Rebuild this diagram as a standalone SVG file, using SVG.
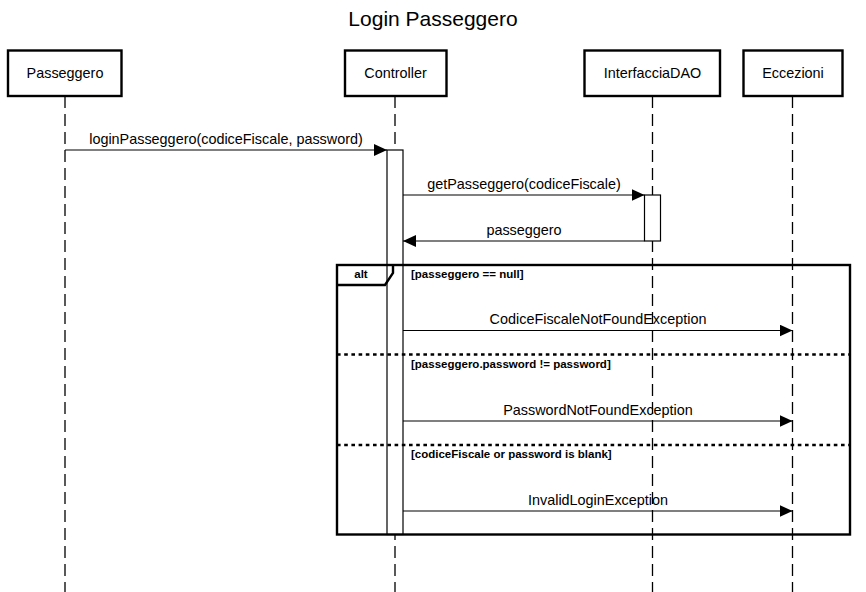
<svg xmlns="http://www.w3.org/2000/svg" width="866" height="592" viewBox="0 0 866 592">
<defs>
<style>
.t{font-family:"Liberation Sans",Arial,sans-serif;fill:#000}
.lbl{font-size:14.4px;text-anchor:middle}
.ttl{font-size:21px;text-anchor:middle}
.grd{font-size:11.5px;font-weight:bold}
.box{fill:#fff;stroke:#000;stroke-width:2.4}
.life{stroke:#000;stroke-width:1.3;stroke-dasharray:12 6;fill:none}
.act{fill:#fff;stroke:#000;stroke-width:1.2}
.msg{stroke:#000;stroke-width:1.2;fill:none}
.frame{fill:none;stroke:#000;stroke-width:2.4}
.sep{stroke:#000;stroke-width:2.4;stroke-dasharray:3.6 3.6;fill:none}
</style>
<marker id="ah" viewBox="0 0 13 12" refX="13" refY="6" markerWidth="13" markerHeight="12" markerUnits="userSpaceOnUse" orient="auto">
<path d="M0,0 L13,6 L0,12 Z" fill="#000"/>
</marker>
</defs>
<rect width="866" height="592" fill="#fff"/>
<text class="t ttl" x="433" y="25.5">Login Passeggero</text>

<g id="passeggero">
<line class="life" x1="65" y1="96" x2="65" y2="592"/>
<rect class="box" x="8" y="50.5" width="113.5" height="45.5"/>
<text class="t lbl" x="65" y="78">Passeggero</text>
</g>
<g id="controller">
<line class="life" x1="395" y1="96" x2="395" y2="592"/>
<rect class="box" x="345" y="50.5" width="101.5" height="45.5"/>
<text class="t lbl" x="395.5" y="78">Controller</text>
<rect class="act" x="387" y="150" width="16" height="384.5"/>
</g>
<g id="interfacciadao">
<line class="life" x1="652.5" y1="96" x2="652.5" y2="592"/>
<rect class="box" x="584.5" y="50.5" width="135.5" height="45.5"/>
<text class="t lbl" x="652.5" y="78">InterfacciaDAO</text>
<rect class="act" x="644.5" y="195" width="16" height="46"/>
</g>
<g id="eccezioni">
<line class="life" x1="792.5" y1="96" x2="792.5" y2="592"/>
<rect class="box" x="743.5" y="50.5" width="99" height="45.5"/>
<text class="t lbl" x="793" y="78">Eccezioni</text>
</g>

<g id="frame-alt">
<rect class="frame" x="337" y="265" width="513" height="269.5"/>
<path class="frame" d="M337,285 L385,285 L393,273 L393,265"/>
<text class="t grd" x="361" y="278" text-anchor="middle">alt</text>
<text class="t grd" x="411" y="278">[passeggero == null]</text>
<line class="sep" x1="337" y1="354.5" x2="850" y2="354.5"/>
<text class="t grd" x="411" y="368">[passeggero.password != password]</text>
<line class="sep" x1="337" y1="445" x2="850" y2="445"/>
<text class="t grd" x="411" y="458">[codiceFiscale or password is blank]</text>
</g>

<g id="connectors">
<line class="msg" x1="65" y1="150" x2="387" y2="150" marker-end="url(#ah)"/>
<text class="t lbl" x="226" y="144">loginPasseggero(codiceFiscale, password)</text>
<line class="msg" x1="403" y1="195" x2="644.5" y2="195" marker-end="url(#ah)"/>
<text class="t lbl" x="524" y="189">getPasseggero(codiceFiscale)</text>
<line class="msg" x1="644.5" y1="241" x2="403" y2="241" marker-end="url(#ah)"/>
<text class="t lbl" x="524" y="235">passeggero</text>
<line class="msg" x1="403" y1="330.5" x2="792.5" y2="330.5" marker-end="url(#ah)"/>
<text class="t lbl" x="598" y="324">CodiceFiscaleNotFoundException</text>
<line class="msg" x1="403" y1="421" x2="792.5" y2="421" marker-end="url(#ah)"/>
<text class="t lbl" x="598" y="414.5">PasswordNotFoundException</text>
<line class="msg" x1="403" y1="511" x2="792.5" y2="511" marker-end="url(#ah)"/>
<text class="t lbl" x="598" y="504.5">InvalidLoginException</text>
</g>
</svg>
